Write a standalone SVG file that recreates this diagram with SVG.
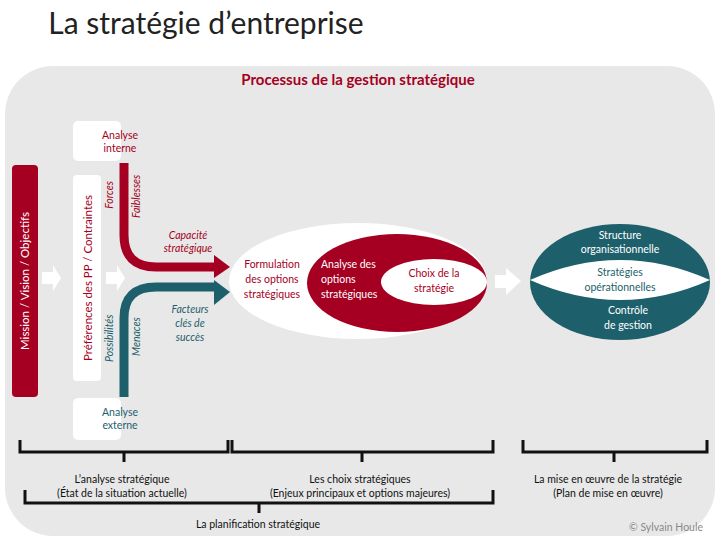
<svg xmlns="http://www.w3.org/2000/svg" width="720" height="540" viewBox="0 0 720 540">
<style>
text{font-family:Lato,"Open Sans","Liberation Sans",sans-serif;font-size:10.5px;text-anchor:middle}
.r{fill:#a50021}.t{fill:#1e5f6c}.w{fill:#fff}.it{font-style:italic}
.br{fill:none;stroke:#111;stroke-width:3}
</style>
<rect width="720" height="540" fill="#fff"/>
<text x="206" y="34" style="font-size:30px;text-anchor:middle;fill:#222">La stratégie d’entreprise</text>
<rect x="5" y="66" width="710" height="470" rx="48" fill="#e8e8e8"/>
<text x="358" y="85" class="r" style="font-size:15px;font-weight:bold">Processus de la gestion stratégique</text>
<g id="mission"><rect x="12" y="165" width="26" height="232" rx="4" class="r"/><text transform="translate(29,281) rotate(-90)" class="w" style="font-size:11.5px">Mission / Vision / Objectifs</text></g>
<g id="interne"><rect x="73" y="121" width="48" height="40" rx="5" class="w"/><text x="120" y="139" class="r">Analyse</text><text x="120" y="152" class="r">interne</text></g>
<g id="pref"><rect x="73" y="175" width="28" height="206" rx="4" class="w"/><text transform="translate(92,278) rotate(-90)" class="r" style="font-size:11.5px">Préférences des PP / Contraintes</text></g>
<g id="externe"><rect x="73" y="398" width="48" height="42" rx="5" class="w"/><text x="120" y="416" class="t">Analyse</text><text x="120" y="429" class="t">externe</text></g>
<g id="connectors">
<polygon points="42,272 53,272 53,265 61,278 53,291 53,284 42,284" class="w"/>
<polygon points="106,272 117,272 117,265 125,278 117,291 117,284 106,284" class="w"/>
<path d="M124,163 V235 Q124,267 156,267 H216" fill="none" stroke="#a50021" stroke-width="9"/>
<polygon points="214,255 230,267 214,278" class="r"/>
<path d="M124,397 V318 Q124,287 156,287 H216" fill="none" stroke="#1e5f6c" stroke-width="9"/>
<polygon points="214,280 230,292 214,305" class="t"/>
<polygon points="495,275 506,275 506,268 521,281 506,295 506,288 495,288" class="w"/>
</g>
<g id="labels">
<text transform="translate(113,181) rotate(-90)" class="r it" style="text-anchor:end">Forces</text>
<text transform="translate(140,218) rotate(-90)" class="r it" style="text-anchor:start">Faiblesses</text>
<text x="188" y="239" class="r it">Capacité</text><text x="188" y="252" class="r it">stratégique</text>
<text transform="translate(113,362) rotate(-90)" class="t it" style="text-anchor:start">Possibilités</text>
<text transform="translate(140,356) rotate(-90)" class="t it" style="text-anchor:start">Menaces</text>
<text x="190" y="313" class="t it">Facteurs</text><text x="190" y="327" class="t it">clés de</text><text x="190" y="341" class="t it">succès</text>
</g>
<g id="formulation"><ellipse cx="358" cy="281" rx="129" ry="58" class="w"/>
<text x="272" y="268" class="r">Formulation</text><text x="272" y="283" class="r">des options</text><text x="272" y="298" class="r">stratégiques</text></g>
<g id="analyse-options"><ellipse cx="397" cy="283" rx="90" ry="49" class="r"/>
<text x="321" y="268" class="w" style="text-anchor:start">Analyse des</text><text x="321" y="283" class="w" style="text-anchor:start">options</text><text x="321" y="298" class="w" style="text-anchor:start">stratégiques</text></g>
<g id="choix"><ellipse cx="434" cy="282" rx="53" ry="23" class="w"/>
<text x="434" y="277" class="r">Choix de la</text><text x="434" y="292" class="r">stratégie</text></g>
<g id="miseoeuvre"><ellipse cx="620" cy="282" rx="90" ry="58" class="t"/>
<path d="M530,280 Q620,240 710,280 Q620,320 530,280Z" class="w"/>
<text x="620" y="239" class="w">Structure</text><text x="620" y="253" class="w">organisationnelle</text>
<text x="620" y="276" class="t">Stratégies</text><text x="620" y="291" class="t">opérationnelles</text>
<text x="628" y="314" class="w">Contrôle</text><text x="628" y="329" class="w">de gestion</text></g>
<g id="brackets">
<path class="br" d="M20,440 V452 H228 V440 M124,452 V462"/>
<path class="br" d="M232,440 V452 H493 V440 M362,452 V462"/>
<path class="br" d="M523,440 V452 H707 V440 M614,452 V462"/>
<path class="br" d="M25,490 V503 H493 V490 M259,503 V513"/>
<text x="122" y="483" style="fill:#111">L’analyse stratégique</text><text x="122" y="497" style="fill:#111">(État de la situation actuelle)</text>
<text x="360" y="483" style="fill:#111">Les choix stratégiques</text><text x="360" y="497" style="fill:#111">(Enjeux principaux et options majeures)</text>
<text x="608" y="483" style="fill:#111">La mise en œuvre de la stratégie</text><text x="608" y="497" style="fill:#111">(Plan de mise en œuvre)</text>
<text x="258" y="528" style="fill:#111">La planification stratégique</text>
<text x="666" y="531" style="fill:#888">© Sylvain Houle</text>
</g>
</svg>
